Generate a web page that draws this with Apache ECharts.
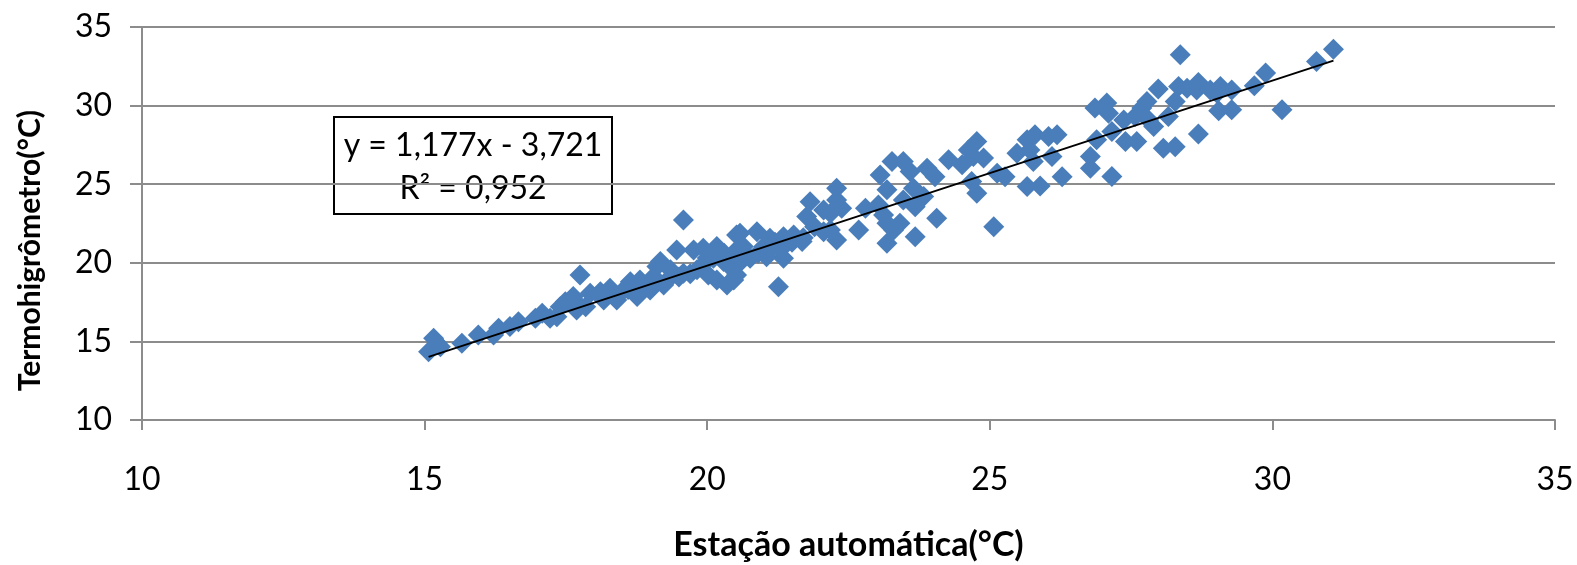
<!DOCTYPE html>
<html>
<head>
<meta charset="utf-8">
<script src="https://cdn.jsdelivr.net/npm/echarts@6/dist/echarts.min.js"></script>
<style>
  html, body { margin: 0; padding: 0; background: #fff; }
  #chart { width: 1577px; height: 565px; }
</style>
</head>
<body>
<div id="chart"></div>
<script>
// leituras estimadas da figura
const estacao = [
  15.07, 15.16, 15.22, 15.28, 15.66, 15.95, 16.22, 16.31, 16.51, 16.66,
  16.96, 17.08, 17.22, 17.34, 17.40, 17.49, 17.63, 17.69, 17.75, 17.70,
  17.85, 17.93, 18.11, 18.17, 18.28, 18.40, 18.52, 18.60, 18.64, 18.76,
  18.81, 18.90, 18.99, 19.00, 19.05, 19.11, 19.17, 19.23, 19.30, 19.35,
  19.46, 19.50, 19.58, 19.58, 19.70, 19.76, 19.82, 19.90, 19.93, 20.00,
  20.02, 20.11, 20.17, 20.17, 20.29, 20.30, 20.35, 20.40, 20.47, 20.49,
  20.52, 20.52, 20.52, 20.58, 20.60, 20.64, 20.76, 20.88, 20.90, 21.00,
  21.05, 21.10, 21.11, 21.20, 21.26, 21.29, 21.35, 21.35, 21.50, 21.53,
  21.68, 21.70, 21.76, 21.82, 21.90, 22.06, 22.06, 22.18, 22.18, 22.29,
  22.29, 22.29, 22.38, 22.68, 22.80, 23.03, 23.06, 23.12, 23.18, 23.18,
  23.18, 23.27, 23.30, 23.41, 23.47, 23.47, 23.59, 23.65, 23.68, 23.68,
  23.83, 23.89, 24.03, 24.06, 24.27, 24.51, 24.62, 24.68, 24.71, 24.77,
  24.77, 24.89, 25.07, 25.13, 25.27, 25.48, 25.66, 25.66, 25.71, 25.77,
  25.80, 25.89, 26.04, 26.10, 26.19, 26.28, 26.78, 26.78, 26.86, 26.89,
  27.07, 27.10, 27.16, 27.16, 27.37, 27.40, 27.57, 27.60, 27.69, 27.78,
  27.81, 27.90, 27.98, 28.07, 28.16, 28.28, 28.28, 28.34, 28.37, 28.49,
  28.66, 28.69, 28.69, 28.90, 29.02, 29.05, 29.08, 29.28, 29.28, 29.68,
  29.88, 30.17, 30.78, 31.08
];
const termohigrometro = [
  14.34, 15.20, 14.90, 14.66, 14.88, 15.41, 15.41, 15.84, 15.94, 16.25,
  16.47, 16.79, 16.47, 16.57, 17.20, 17.53, 17.85, 17.00, 19.23, 17.43,
  17.20, 18.06, 18.16, 17.64, 18.38, 17.64, 18.27, 18.30, 18.80, 17.85,
  18.91, 18.50, 18.27, 18.60, 19.12, 19.76, 20.08, 18.59, 18.90, 19.55,
  20.82, 19.10, 22.73, 19.33, 19.30, 20.82, 19.55, 19.80, 20.93, 20.30,
  19.23, 20.29, 21.03, 18.91, 20.08, 20.60, 18.59, 19.76, 18.91, 20.50,
  21.77, 20.82, 19.23, 21.88, 20.10, 21.03, 20.29, 21.98, 20.60, 21.03,
  20.39, 20.90, 21.56, 21.30, 18.48, 20.82, 21.66, 20.29, 21.30, 21.77,
  21.35, 21.60, 22.94, 23.89, 22.30, 23.36, 21.98, 23.15, 22.09, 24.75,
  24.00, 21.45, 23.47, 22.09, 23.47, 23.68, 25.59, 23.04, 24.64, 22.52,
  21.24, 26.44, 22.09, 22.52, 26.44, 24.00, 25.80, 24.75, 23.57, 21.66,
  24.21, 26.02, 25.48, 22.84, 26.55, 26.23, 27.18, 25.17, 26.76, 27.71,
  24.43, 26.66, 22.30, 25.70, 25.48, 26.97, 27.82, 24.85, 27.18, 26.44,
  28.14, 24.89, 28.03, 26.76, 28.14, 25.48, 26.76, 26.02, 29.84, 27.82,
  30.16, 29.52, 28.35, 25.49, 29.09, 27.71, 29.30, 27.71, 29.84, 30.26,
  29.09, 28.67, 31.05, 27.29, 29.30, 30.26, 27.39, 31.21, 33.23, 31.11,
  31.00, 31.47, 28.20, 31.00, 30.79, 29.68, 31.21, 31.00, 29.73, 31.26,
  32.07, 29.73, 32.80, 33.59
];
const tendencia = { a: 1.177, b: -3.721 };
const rotuloEquacao = ['y = 1,177x - 3,721', 'R\u00b2 = 0,952'];

const pontos = estacao.map((x, i) => [x, termohigrometro[i]]);
const xMin = Math.min(...estacao);
const xMax = Math.max(...estacao);
const linha = [xMin, xMax].map(x => [x, tendencia.a * x + tendencia.b]);

const fonte = 'Lato, "Open Sans", sans-serif';
const cinza = '#8c8c8c';

const chart = echarts.init(document.getElementById('chart'));
chart.setOption({
  animation: false,
  textStyle: { fontFamily: fonte },
  grid: { left: 142, right: 22, top: 27, bottom: 145, containLabel: false, outerBoundsMode: 'none' },
  xAxis: {
    type: 'value', min: 10, max: 35, interval: 5,
    name: 'Estação automática(°C)', nameLocation: 'middle', nameGap: 108,
    nameTextStyle: { fontSize: 34, fontWeight: 'bold', color: '#000', fontFamily: fonte },
    axisLine: { show: true, lineStyle: { color: cinza, width: 2 } },
    axisTick: { show: true, length: 10, lineStyle: { color: cinza, width: 2 } },
    axisLabel: { fontSize: 32, color: '#000', margin: 44, fontFamily: fonte },
    splitLine: { show: false }
  },
  yAxis: {
    type: 'value', min: 10, max: 35, interval: 5,
    axisLine: { show: true, lineStyle: { color: cinza, width: 2 } },
    axisTick: { show: true, length: 12, lineStyle: { color: cinza, width: 2 } },
    axisLabel: { fontSize: 32, color: '#000', margin: 30, fontFamily: fonte },
    splitLine: { show: true, lineStyle: { color: cinza, width: 2 } }
  },
  graphic: [
    {
      type: 'text', left: 15, top: 110, rotation: Math.PI / 2,
      style: { text: 'Termohigrômetro(°C)', fontSize: 30, fontWeight: 'bold', fill: '#000', fontFamily: fonte }
    },
    {
      type: 'group', left: 333, top: 116,
      children: [
        { type: 'rect', shape: { x: 0, y: 0, width: 278, height: 97 },
          style: { fill: '#fff', stroke: '#000', lineWidth: 2 } },
        { type: 'text', x: 139, y: 29, style: { text: rotuloEquacao[0], fontSize: 32, fill: '#000',
          align: 'center', verticalAlign: 'middle', fontFamily: fonte } },
        { type: 'text', x: 139, y: 72, style: { text: rotuloEquacao[1], fontSize: 32, fill: '#000',
          align: 'center', verticalAlign: 'middle', fontFamily: fonte } }
      ]
    }
  ],
  series: [
    {
      type: 'scatter', data: pontos, symbol: 'diamond', symbolSize: 21,
      itemStyle: { color: '#4a7ebb', opacity: 1 }
    },
    {
      type: 'line', data: linha, symbol: 'none', z: 5,
      lineStyle: { color: '#000', width: 2 }
    }
  ]
});
</script>
</body>
</html>
